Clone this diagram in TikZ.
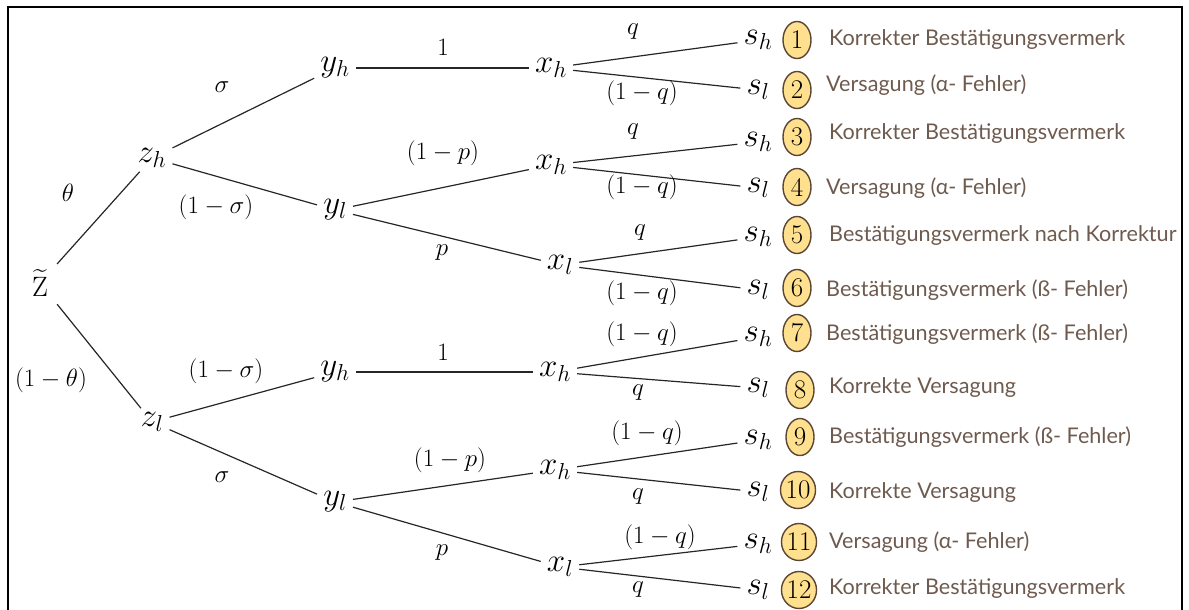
\RequirePackage{fix-cm}
\documentclass[tikz,border=0pt]{standalone}
\usepackage{fontspec}
\usepackage{amsmath}
\usetikzlibrary{shapes.geometric}
\newfontfamily\legendfont{Lato}
\definecolor{legendtext}{HTML}{6E5A4E}
\definecolor{badgefill}{HTML}{FFE08E}
\definecolor{badgeline}{HTML}{5B4636}
\tikzset{
  state/.style={font=\fontsize{33}{33}\selectfont, inner xsep=6pt, inner ysep=4pt},
  prob/.style={font=\fontsize{25}{25}\selectfont, inner sep=0pt},
  badge/.style={ellipse, draw=badgeline, line width=1.4pt, fill=badgefill,
    inner xsep=0pt, inner ysep=0pt, minimum width=28pt, minimum height=37pt,
    font=\fontsize{27}{27}\selectfont},
  outcome/.style={anchor=west, text=legendtext, inner sep=0pt,
    font=\legendfont\fontsize{21.6}{22}\selectfont},
  branch/.style={line width=1.2pt, black!85}
}

\begin{document}
\begin{tikzpicture}[x=1pt,y=-1pt]
    \useasboundingbox (0,0) rectangle (1189,610);
    \draw[line width=2pt] (8,612) -- (8,7) -- (1182,7) -- (1182,612);

    \node[state,font=\fontsize{28}{28}\selectfont,inner sep=9pt] (zt) at (40,283) {$\widetilde{\mathrm{Z}}$};
    \node[state] (zh) at (152,158) {$z_h$};
    \node[state] (zl) at (152,422) {$z_l$};
    \node[state] (yh1) at (335,68) {$y_h$};
    \node[state] (yl1) at (335,210) {$y_l$};
    \node[state] (yh2) at (335,372) {$y_h$};
    \node[state] (yl2) at (335,502) {$y_l$};
    \node[state] (xh1) at (551,68) {$x_h$};
    \node[state] (xh2) at (551,165) {$x_h$};
    \node[state] (xl1) at (560,265) {$x_l$};
    \node[state] (xh3) at (555,372) {$x_h$};
    \node[state] (xh4) at (555,470) {$x_h$};
    \node[state] (xl2) at (560,567) {$x_l$};
    \node[state] (sh1) at (758,40) {$s_h$};
    \node[state] (sl1) at (758,90) {$s_l$};
    \node[state] (sh2) at (758,142) {$s_h$};
    \node[state] (sl2) at (758,188) {$s_l$};
    \node[state] (sh3) at (758,237) {$s_h$};
    \node[state] (sl3) at (758,290) {$s_l$};
    \node[state] (sh4) at (758,337) {$s_h$};
    \node[state] (sl4) at (758,388) {$s_l$};
    \node[state] (sh5) at (758,440) {$s_h$};
    \node[state] (sl5) at (758,492) {$s_l$};
    \node[state] (sh6) at (758,544) {$s_h$};
    \node[state] (sl6) at (758,590) {$s_l$};

    \draw[branch] (zt) -- (zh);
    \draw[branch] (zt) -- (zl);
    \draw[branch] (zh) -- (yh1);
    \draw[branch] (zh) -- (yl1);
    \draw[branch] (zl) -- (yh2);
    \draw[branch] (zl) -- (yl2);
    \draw[branch] (yh1) -- (xh1);
    \draw[branch] (yl1) -- (xh2);
    \draw[branch] (yl1) -- (xl1);
    \draw[branch] (yh2) -- (xh3);
    \draw[branch] (yl2) -- (xh4);
    \draw[branch] (yl2) -- (xl2);
    \draw[branch] (xh1) -- (sh1);
    \draw[branch] (xh1) -- (sl1);
    \draw[branch] (xh2) -- (sh2);
    \draw[branch] (xh2) -- (sl2);
    \draw[branch] (xl1) -- (sh3);
    \draw[branch] (xl1) -- (sl3);
    \draw[branch] (xh3) -- (sh4);
    \draw[branch] (xh3) -- (sl4);
    \draw[branch] (xh4) -- (sh5);
    \draw[branch] (xh4) -- (sl5);
    \draw[branch] (xl2) -- (sh6);
    \draw[branch] (xl2) -- (sl6);

    \node[prob] (p1) at (68,193) {$\theta$};
    \node[prob] (p2) at (51,380) {$(1-\theta)$};
    \node[prob] (p3) at (222,87) {$\sigma$};
    \node[prob] (p4) at (216,207) {$(1-\sigma)$};
    \node[prob] (p5) at (226,371) {$(1-\sigma)$};
    \node[prob] (p6) at (222,477) {$\sigma$};
    \node[prob] (p7) at (443,47) {$1$};
    \node[prob] (p8) at (443,352) {$1$};
    \node[prob] (p9) at (443,153) {$(1-p)$};
    \node[prob] (p10) at (442,253) {$p$};
    \node[prob] (p11) at (450,460) {$(1-p)$};
    \node[prob] (p12) at (442,553) {$p$};
    \node[prob] (p13) at (633,32) {$q$};
    \node[prob] (p14) at (642,93) {$(1-q)$};
    \node[prob] (p15) at (633,132) {$q$};
    \node[prob] (p16) at (642,187) {$(1-q)$};
    \node[prob] (p17) at (640,233) {$q$};
    \node[prob] (p18) at (642,293) {$(1-q)$};
    \node[prob] (p19) at (642,334) {$(1-q)$};
    \node[prob] (p20) at (638,393) {$q$};
    \node[prob] (p21) at (647,433) {$(1-q)$};
    \node[prob] (p22) at (638,497) {$q$};
    \node[prob] (p23) at (660,537) {$(1-q)$};
    \node[prob] (p24) at (638,590) {$q$};

    \node[badge] (b1) at (797,40) {1};
    \node[badge] (b2) at (797,90) {2};
    \node[badge] (b3) at (797,137) {3};
    \node[badge] (b4) at (797,187) {4};
    \node[badge] (b5) at (797,235) {5};
    \node[badge] (b6) at (797,288) {6};
    \node[badge] (b7) at (797,333) {7};
    \node[badge] (b8) at (800,390) {8};
    \node[badge] (b9) at (800,437) {9};
    \node[badge] (b10) at (798,490) {10};
    \node[badge] (b11) at (799,542) {11};
    \node[badge] (b12) at (799,590) {12};

    \node[outcome] (t1) at (829,40) {Korrekter Bestätigungsvermerk};
    \node[outcome] (t2) at (826,85) {Versagung (α- Fehler)};
    \node[outcome] (t3) at (829,134) {Korrekter Bestätigungsvermerk};
    \node[outcome] (t4) at (826,188) {Versagung (α- Fehler)};
    \node[outcome] (t5) at (829,236) {Bestätigungsvermerk nach Korrektur};
    \node[outcome] (t6) at (826,290) {Bestätigungsvermerk (ß- Fehler)};
    \node[outcome] (t7) at (826,334) {Bestätigungsvermerk (ß- Fehler)};
    \node[outcome] (t8) at (829,388) {Korrekte Versagung};
    \node[outcome] (t9) at (829,437) {Bestätigungsvermerk (ß- Fehler)};
    \node[outcome] (t10) at (829,493) {Korrekte Versagung};
    \node[outcome] (t11) at (829,542) {Versagung (α- Fehler)};
    \node[outcome] (t12) at (829,589) {Korrekter Bestätigungsvermerk};
\end{tikzpicture}
\end{document}
